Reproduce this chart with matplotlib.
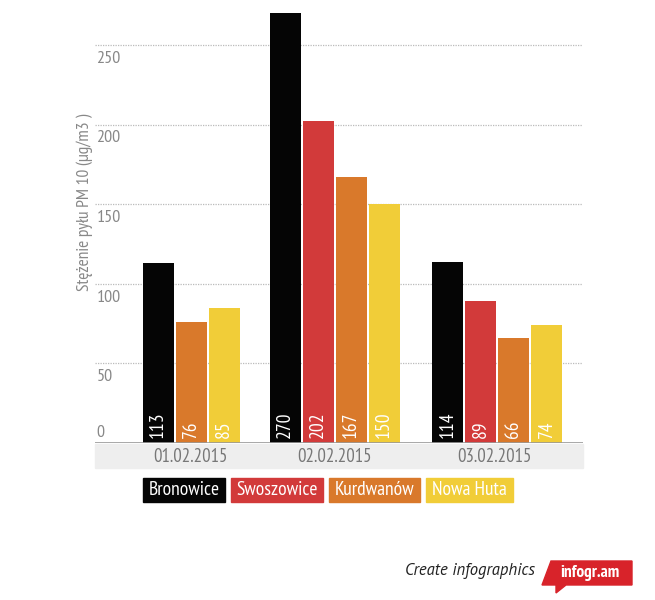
import matplotlib.pyplot as plt
from matplotlib.patches import Rectangle, Polygon

# data
dates = ['01.02.2015', '02.02.2015', '03.02.2015']
stations = ['Bronowice', 'Swoszowice', 'Kurdwanów', 'Nowa Huta']
colors = ['#050505', '#d23a3a', '#d9792b', '#f1cd38']
bronowice = [113, 270, 114]
swoszowice = [None, 202, 89]
kurdwanow = [76, 167, 66]
nowa_huta = [85, 150, 74]
yticks = [0, 50, 100, 150, 200, 250]

series = [bronowice, swoszowice, kurdwanow, nowa_huta]

FONT = ['PT Sans Narrow', 'DejaVu Sans']
plt.rcParams['font.family'] = FONT

W, H = 655, 600
fig = plt.figure(figsize=(W / 100, H / 100), dpi=100)

# axes in pixel layout: x 95..583, y 10..443
ax = fig.add_axes([95 / W, (H - 443) / H, (583 - 95) / W, (443 - 10) / H])
step = 33.0
ax.set_xlim(0, 488 / step)
ax.set_ylim(0, 433 / 1.592)

group_centers = [2.91, 7.26, 12.18]
for g, xc in enumerate(group_centers):
    vals = [(s[g], c) for s, c in zip(series, colors) if s[g] is not None]
    n = len(vals)
    for i, (v, c) in enumerate(vals):
        x = xc + (i - (n - 1) / 2)
        ax.bar(x, v, width=0.94, color=c, zorder=3)
        ax.text(x, 3, str(v), rotation=90, color='white', ha='center',
                va='bottom', fontsize=14, zorder=4)

for t in yticks[1:]:
    ax.axhline(t, color='#bbbbbb', lw=0.9, ls=(0, (1, 1)), zorder=1)
ax.axhline(0, color='#999999', lw=1.2, zorder=5)

for t in yticks:
    off = 7 if t == 0 else -10
    ax.annotate(str(t), (0, t), xytext=(1, off), textcoords='offset points',
                ha='left', va='center', color='#888888', fontsize=13)

ax.set_xticks([])
ax.set_yticks([])
for sp in ax.spines.values():
    sp.set_visible(False)

ax.text(-0.004, 0.555, 'Stężenie pyłu PM 10 (µg/m3 )', transform=ax.transAxes,
        rotation=90, ha='right', va='center', color='#888888', fontsize=12.5)

# category band
def px(x, y):
    return x / W, 1 - y / H

band = Rectangle(px(95, 468), (583 - 95) / W, 24 / H, transform=fig.transFigure,
                 color='#eeeeee', zorder=0)
fig.patches.append(band)
label_centers = [190, 334.5, 494.5]
for xc, d in zip(label_centers, dates):
    fig.text(xc / W, 1 - 457 / H, d, ha='center', va='center', color='#777777',
             fontsize=13.5)

# legend boxes
boxes = [(143, 225), (231, 323), (329, 420), (426, 513)]
for (x0, x1), name, c in zip(boxes, stations, colors):
    r = Rectangle(px(x0, 502), (x1 - x0) / W, 24 / H, transform=fig.transFigure,
                  color=c, zorder=0)
    fig.patches.append(r)
    fig.text((x0 + x1) / 2 / W, 1 - 490 / H, name, ha='center', va='center',
             color='white', fontsize=14)

# footer
fig.text(535 / W, 1 - 571 / H, 'Create infographics', ha='right', va='center',
         style='italic', color='#222222', fontsize=12, family='PT Sans')
shape = Polygon([px(551, 561), px(632, 561), px(632, 585), px(566, 585),
                 px(556, 593), px(556, 585), px(542, 585)],
                closed=True, transform=fig.transFigure, color='#d8232a')
fig.patches.append(shape)
fig.text(590 / W, 1 - 573 / H, 'infogr.am', ha='center', va='center',
         color='white', fontsize=12.5, fontweight='bold')

fig.savefig('out.png', dpi=100)
